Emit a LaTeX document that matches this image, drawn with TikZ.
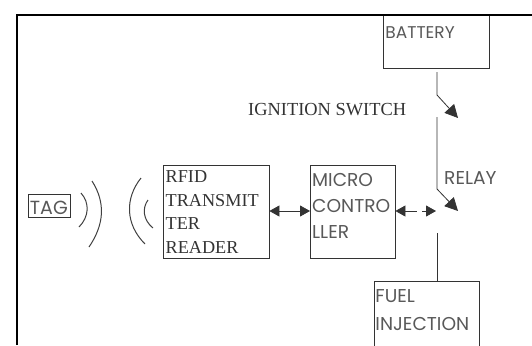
\documentclass[tikz,border=0pt]{standalone}
\usepackage{fontspec}
\setmainfont{Liberation Serif}
\newfontfamily\gothic{Poppins}
\usetikzlibrary{arrows.meta}
\tikzset{
  x=1pt,y=-1pt,
  serifbox/.style={draw=black!80,line width=0.9pt,inner sep=0pt,anchor=north west,text=black!80,
    font=\fontsize{18.2}{23.5}\selectfont,align=left},
  gothicbox/.style={draw=black!80,line width=0.9pt,inner sep=0pt,anchor=north west,text=black!65,
    font=\gothic\fontsize{18.6}{26}\selectfont,align=left},
  wire/.style={draw=black!80,line width=0.8pt},
  arc/.style={draw=black!75,line width=1pt},
  switcharrow/.style={wire,-{Triangle[length=13pt,width=13pt]}},
  bothways/.style={wire,{Triangle[length=10pt,width=11pt]}-{Triangle[length=10pt,width=11pt]}},
  frameline/.style={draw=black,line width=2pt}
}
\begin{document}
\begin{tikzpicture}
\useasboundingbox (0,0) rectangle (532,345);
\clip (0,0) rectangle (532,345);
\fill[white] (0,0) rectangle (532,345);

\node[serifbox,minimum width=105.5pt,minimum height=93pt,text width=103pt] (rfid) at (163,165)
  {\hspace*{1pt}RFID\\\hspace*{1pt}TRANSMIT\\\hspace*{1pt}TER\\\hspace*{1pt}READER};
\node[gothicbox,minimum width=84.5pt,minimum height=93pt,text width=83pt] (micro) at (310,165)
  {\hspace*{1pt}MICRO\\\hspace*{1pt}CONTRO\\\hspace*{1pt}LLER\\[-22pt]\strut};
\node[gothicbox,font=\gothic\fontsize{17}{20}\selectfont,minimum width=106pt,minimum height=53pt,text width=104pt] (battery) at (383,15)
  {\raisebox{3.5pt}[0pt][0pt]{\hspace*{1pt}BATTERY}};
\node[gothicbox,minimum width=105pt,minimum height=104pt,text width=103pt] (fuel) at (374,281)
  {\hspace*{0pt}FUEL\\[2pt]\hspace*{0pt}INJECTION\\[14pt]\strut};
\node[draw=black!80,line width=0.8pt,inner sep=0pt,anchor=north west,minimum width=42pt,minimum height=22.5pt,
  text=black!65,font=\gothic\fontsize{19}{20}\selectfont] (tag) at (27.5,194) {\raisebox{-9pt}[0pt][0pt]{TAG}};

\node[anchor=base west,inner sep=0pt,text=black!80,font=\fontsize{18.4}{20}\selectfont] (ign) at (248,115) {IGNITION SWITCH};
\node[anchor=base west,inner sep=0pt,text=black!65,font=\gothic\fontsize{18.6}{20}\selectfont] (relay) at (444,184) {RELAY};

% frame
\coordinate (frameBL) at (17,345);
\coordinate (frameTL) at (17,15);
\coordinate (frameTR) at (532,15);
\draw[frameline] (frameBL) -- (frameTL) -- (frameTR);

% switch wiring
\coordinate (topA) at (437,72);
\coordinate (topB) at (437,95);
\coordinate (topTip) at (458,118);
\coordinate (midA) at (437,117);
\coordinate (midB) at (437,189);
\coordinate (midTip) at (458,211);
\coordinate (lowA) at (437,233);
\coordinate (relayIn) at (436,211);
\draw[switcharrow] (topA) -- (topB) -- (topTip);
\draw[switcharrow] (midA) -- (midB) -- (midTip);
\draw[wire] (lowA) -- (lowA |- fuel.north);

% block links
\draw[bothways] (rfid.east |- 0,211) -- (micro.west |- 0,211);
\draw[bothways,dash pattern=on 12pt off 5pt] (micro.east |- 0,211) -- (relayIn);

% radio arcs
\coordinate (a1s) at (81,193); \coordinate (a1e) at (79,227);
\coordinate (a2s) at (92,181); \coordinate (a2e) at (89,247);
\coordinate (a3s) at (141,178); \coordinate (a3e) at (145,244);
\coordinate (a4s) at (148,200); \coordinate (a4e) at (153,228);
\draw[arc] (a1s) .. controls (90,203) and (89,217) .. (a1e);
\draw[arc] (a2s) .. controls (106,203) and (104,225) .. (a2e);
\draw[arc] (a3s) .. controls (125,198) and (125,224) .. (a3e);
\draw[arc] (a4s) .. controls (142,208) and (143,220) .. (a4e);
\end{tikzpicture}
\end{document}
